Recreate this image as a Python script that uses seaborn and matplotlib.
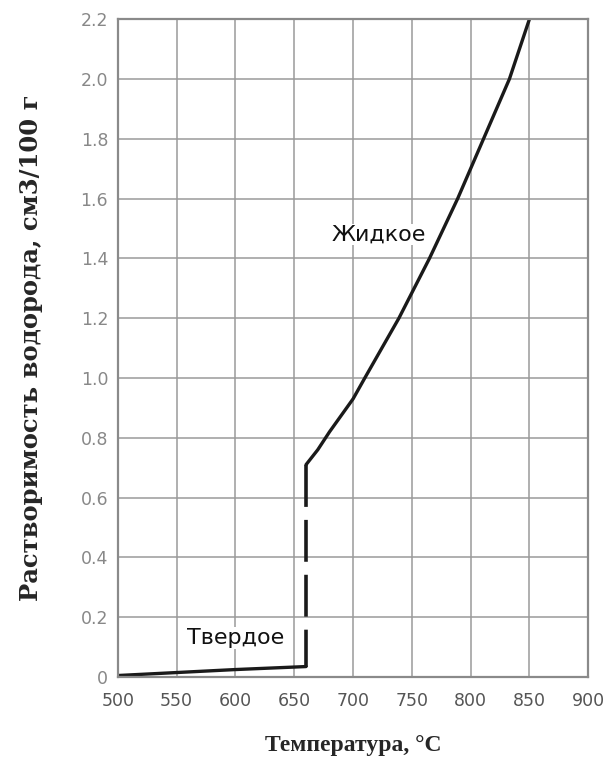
import matplotlib
matplotlib.use("Agg")
import matplotlib.pyplot as plt
import seaborn as sns
import pandas as pd

# --- data ---
solid_T = [500, 550, 600, 660]
solid_S = [0.005, 0.015, 0.025, 0.035]

melt_T = [660, 660]
melt_S = [0.71, 0.035]

liquid_T = [660, 670, 680, 700, 710, 739, 765, 789, 811, 833, 850]
liquid_S = [0.71, 0.76, 0.82, 0.93, 1.00, 1.20, 1.40, 1.60, 1.80, 2.00, 2.20]

x_ticks = [500, 550, 600, 650, 700, 750, 800, 850, 900]
y_ticks = [0, 0.2, 0.4, 0.6, 0.8, 1.0, 1.2, 1.4, 1.6, 1.8, 2.0, 2.2]
y_tick_labels = ["0", "0.2", "0.4", "0.6", "0.8", "1.0", "1.2", "1.4", "1.6", "1.8", "2.0", "2.2"]

label_solid = "Твердое"
label_liquid = "Жидкое"
x_label = "Температура, °C"
y_label = "Растворимость водорода, см3/100 г"

sns.set_theme(style="white")
plt.rcParams['font.family'] = ['DejaVu Sans']

fig = plt.figure(figsize=(6.14, 7.65), dpi=100)
ax = fig.add_axes([0.192, 0.115, 0.766, 0.86])

df_solid = pd.DataFrame({"T": solid_T, "S": solid_S})
df_melt = pd.DataFrame({"T": melt_T, "S": melt_S})
df_liq = pd.DataFrame({"T": liquid_T, "S": liquid_S})

sns.lineplot(data=df_solid, x="T", y="S", ax=ax, color="#1a1a1a", lw=2.4,
             estimator=None, sort=False)
sns.lineplot(data=df_melt, x="T", y="S", ax=ax, color="#1a1a1a", lw=2.6,
             estimator=None, sort=False, dashes=False)
ax.lines[-1].set_dashes([11.6, 3.6])
sns.lineplot(data=df_liq, x="T", y="S", ax=ax, color="#1a1a1a", lw=2.4,
             estimator=None, sort=False)

ax.set_xlim(500, 900)
ax.set_ylim(0, 2.2)
ax.set_xticks(x_ticks)
ax.set_xticklabels([str(t) for t in x_ticks])
ax.set_yticks(y_ticks)
ax.set_yticklabels(y_tick_labels)
ax.tick_params(axis='x', length=0, labelsize=12.5, labelcolor="#555555", pad=11)
ax.tick_params(axis='y', length=0, labelsize=12.5, labelcolor="#888888", pad=7)

ax.grid(True, color="#9a9a9a", lw=1.1)
for s in ax.spines.values():
    s.set_visible(True)
    s.set_color("#8a8a8a")
    s.set_linewidth(1.6)

ax.text(600, 0.13, label_solid, ha="center", va="center", fontsize=16, color="#111111",
        bbox=dict(facecolor="white", edgecolor="none", pad=0.5))
ax.text(722, 1.48, label_liquid, ha="center", va="center", fontsize=16, color="#111111",
        bbox=dict(facecolor="white", edgecolor="none", pad=0.5))

ax.set_xlabel(x_label, fontsize=17, fontweight="bold", family=["Liberation Serif", "DejaVu Serif"], labelpad=18)
ax.set_ylabel(y_label, fontsize=17.5, fontweight="bold", family=["DejaVu Serif"], labelpad=27)

fig.savefig("out.png", dpi=100)
